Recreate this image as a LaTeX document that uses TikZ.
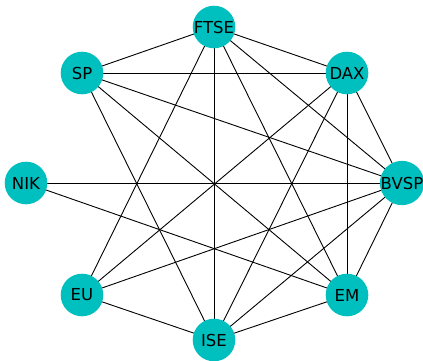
\documentclass[tikz,border=0pt]{standalone}
\usepackage{fontspec}
\setmainfont{DejaVu Sans}
\definecolor{nodecyan}{HTML}{00BFBF}
\begin{document}
\begin{tikzpicture}[x=1pt,y=1pt,
  vert/.style={circle,fill=nodecyan,draw=none,minimum size=42.6pt,inner sep=0pt,font=\fontsize{16.5}{16.5}\selectfont},
  edge/.style={draw=black,line width=0.9pt}]
\useasboundingbox (0,0) rectangle (423,360);
\coordinate (cFTSE) at (214,333);
\coordinate (cSP) at (82,287);
\coordinate (cDAX) at (347,287);
\coordinate (cNIK) at (26,177);
\coordinate (cBVSP) at (402,177);
\coordinate (cEU) at (82,65);
\coordinate (cEM) at (347,65);
\coordinate (cISE) at (214,20);
\foreach \a/\b in {FTSE/SP,FTSE/DAX,FTSE/BVSP,FTSE/EM,FTSE/ISE,FTSE/EU,
  SP/DAX,SP/BVSP,SP/EM,SP/ISE,DAX/BVSP,DAX/EM,DAX/ISE,DAX/EU,
  BVSP/EM,BVSP/ISE,BVSP/EU,BVSP/NIK,NIK/EM,EU/ISE,ISE/EM}
  \draw[edge] (c\a) -- (c\b);
\node[vert] (FTSE) at (cFTSE) {FTSE};
\node[vert] (SP) at (cSP) {SP};
\node[vert] (DAX) at (cDAX) {DAX};
\node[vert] (NIK) at (cNIK) {NIK};
\node[vert] (BVSP) at (cBVSP) {BVSP};
\node[vert] (EU) at (cEU) {EU};
\node[vert] (EM) at (cEM) {EM};
\node[vert] (ISE) at (cISE) {ISE};
\end{tikzpicture}
\end{document}
